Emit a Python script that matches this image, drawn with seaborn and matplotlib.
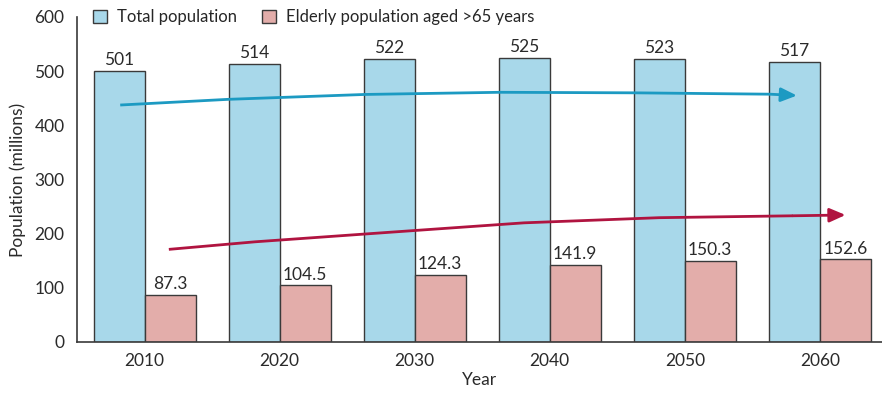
import matplotlib
matplotlib.use("Agg")
import matplotlib.pyplot as plt
import seaborn as sns
import pandas as pd
import numpy as np
from matplotlib.patches import Patch

years = ["2010", "2020", "2030", "2040", "2050", "2060"]
total_pop = [501, 514, 522, 525, 523, 517]
elderly_pop = [87.3, 104.5, 124.3, 141.9, 150.3, 152.6]
series_names = ["Total population", "Elderly population aged >65 years"]

# decorative trend arrows (x in category index, y in millions)
blue_arrow_x = [-0.18, 0.62, 1.63, 2.63, 3.63, 4.63, 4.83]
blue_arrow_y = [437.5, 448, 457, 461, 460, 457.5, 455]
red_arrow_x = [0.18, 0.82, 1.81, 2.81, 3.81, 4.80, 5.19]
red_arrow_y = [171, 185, 202.5, 220, 229.5, 233, 234.5]

sns.set_theme(style="white")
plt.rcParams['font.family'] = ['Lato', 'DejaVu Sans']

df = pd.DataFrame({
    "Year": years * 2,
    "Population": total_pop + elderly_pop,
    "Series": [series_names[0]] * len(years) + [series_names[1]] * len(years),
})

colors = ["#A8D8EA", "#E3ADAA"]
edge = "#3a3a3a"
txt = "#2a2a2a"
fs = 12.5

fig = plt.figure(figsize=(8.82, 3.97), dpi=100)
ax = fig.add_axes([77 / 882, 1 - 342 / 397, 1 - 77 / 882, (342 - 17) / 397])

sns.barplot(data=df, x="Year", y="Population", hue="Series", palette=colors,
            edgecolor=edge, linewidth=1.0, width=0.755, ax=ax, legend=False,
            saturation=1)

for cont, fmt in zip(ax.containers, ["%d", "%.1f"]):
    ax.bar_label(cont, fmt=fmt, padding=2, fontsize=fs, color=txt)

ax.plot(blue_arrow_x[:-1], blue_arrow_y[:-1], color="#1C9AC2", lw=2, solid_capstyle="butt")
ax.annotate("", xy=(blue_arrow_x[-1], blue_arrow_y[-1]),
            xytext=(blue_arrow_x[-2], blue_arrow_y[-2]),
            arrowprops=dict(arrowstyle="-|>,head_length=0.8,head_width=0.35",
                            color="#1C9AC2", lw=2, shrinkA=0, shrinkB=0))
ax.plot(red_arrow_x[:-1], red_arrow_y[:-1], color="#B01440", lw=2, solid_capstyle="butt")
ax.annotate("", xy=(red_arrow_x[-1], red_arrow_y[-1]),
            xytext=(red_arrow_x[-2], red_arrow_y[-2]),
            arrowprops=dict(arrowstyle="-|>,head_length=0.8,head_width=0.35",
                            color="#B01440", lw=2, shrinkA=0, shrinkB=0))

ax.set_ylim(0, 600)
ax.set_xlim(-0.5, 5.46)
ax.set_yticks([0, 100, 200, 300, 400, 500, 600])
ax.set_xticks(range(len(years)))
ax.set_xticklabels(years)
ax.set_xticks(np.arange(-0.5, 5.0, 1.0), minor=True)
ax.tick_params(axis="x", which="major", length=0, pad=8, labelsize=fs, colors=txt)
ax.tick_params(axis="x", which="minor", length=6, width=1, color=edge, direction="out")
ax.tick_params(axis="y", length=6, width=1, color=edge, direction="out", labelsize=fs,
               labelcolor=txt, pad=3)
ax.set_xlabel("Year", fontsize=fs, color=txt, labelpad=2)
ax.set_ylabel("Population (millions)", fontsize=fs, color=txt, labelpad=6)

for s in ["top", "right"]:
    ax.spines[s].set_visible(False)
for s in ["left", "bottom"]:
    ax.spines[s].set_color(edge)
    ax.spines[s].set_linewidth(1.2)

handles = [Patch(facecolor=colors[i], edgecolor=edge, linewidth=1, label=series_names[i])
           for i in range(2)]
fig.legend(handles=handles, loc="center left", bbox_to_anchor=(93 / 882, 1 - 17 / 397),
           ncol=2, frameon=False, fontsize=12, handlelength=0.85, handleheight=0.85,
           handletextpad=0.6, columnspacing=1.5, borderaxespad=0, borderpad=0)

fig.savefig("out.png", dpi=100)
